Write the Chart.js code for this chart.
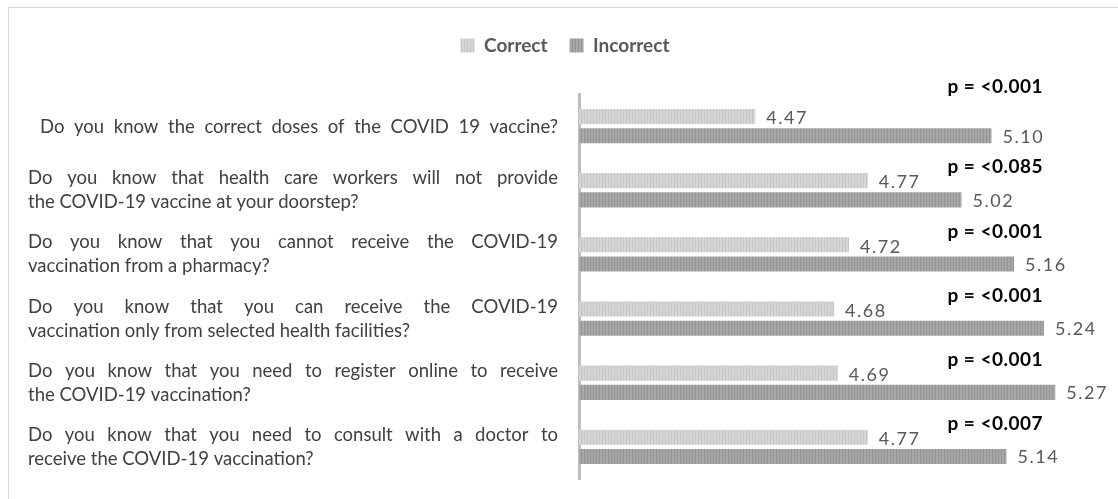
<!DOCTYPE html>
<html>
<head>
<meta charset="utf-8">
<script src="https://cdn.jsdelivr.net/npm/chart.js@4"></script>
<style>
  html, body { margin: 0; padding: 0; background: #fff; }
  #wrap { position: relative; width: 1118px; height: 499px; overflow: hidden; }
  #frame { position: absolute; left: 8px; top: 7px; width: 1130px; height: 510px; border: 1px solid #d9d9d9; box-sizing: border-box; }
  #myBarChart { position: absolute; left: 0; top: 0; }
</style>
</head>
<body>
<div id="wrap">
  <div id="frame"></div>
  <canvas id="myBarChart" width="1118" height="499"></canvas>
</div>
<script>
let questions=[
	['Do you know the correct doses of the COVID 19 vaccine?'],
	['Do you know that health care workers will not provide','the COVID-19 vaccine at your doorstep?'],
	['Do you know that you cannot receive the COVID-19','vaccination from a pharmacy?'],
	['Do you know that you can receive the COVID-19','vaccination only from selected health facilities?'],
	['Do you know that you need to register online to receive','the COVID-19 vaccination?'],
	['Do you know that you need to consult with a doctor to','receive the COVID-19 vaccination?']
];
let correctVals=[4.47,4.77,4.72,4.68,4.69,4.77];
let incorrectVals=[5.10,5.02,5.16,5.24,5.27,5.14];
let pValues=['p = <0.001','p = <0.085','p = <0.001','p = <0.001','p = <0.001','p = <0.007'];
let seriesNames=['Correct','Incorrect'];

// striped fill like the original
function stripes(base,line){
	let c=document.createElement('canvas');
	c.width=3;c.height=3;
	let g=c.getContext('2d');
	g.fillStyle=base;g.fillRect(0,0,3,3);
	g.fillStyle=line;g.fillRect(2,0,1,3);
	return g.createPattern(c,'repeat');
}
let ctx=document.getElementById('myBarChart').getContext('2d');
let lightFill=stripes('#d6d6d6','#c4c4c4');
let darkFill=stripes('#a8a8a8','#939393');

const FONT="Lato, 'Open Sans', sans-serif";
const RIGHT_TEXT=558;

// justified question text on the left
function drawJustified(c,text,y,left){
	let words=text.split(' ');
	let total=0;
	words.forEach(function(w){total+=c.measureText(w).width;});
	let gap=(RIGHT_TEXT-left-total)/(words.length-1);
	let x=left;
	c.textAlign='left';
	words.forEach(function(w){
		c.fillText(w,x,y);
		x+=c.measureText(w).width+gap;
	});
}

const labelsPlugin={
	id:'labelsPlugin',
	beforeInit(chart){
		// extra space under the legend
		const fit=chart.legend.fit;
		chart.legend.fit=function(){fit.bind(chart.legend)();this.height+=29;};
	},
	afterDatasetsDraw(chart){
		let c=chart.ctx;
		let xs=chart.scales.x, ys=chart.scales.y;
		c.save();
		c.textBaseline='middle';
		// questions
		c.font='18.5px '+FONT;
		c.fillStyle='#404040';
		questions.forEach(function(lines,i){
			let yc=ys.getPixelForValue(i);
			let y0=yc-(lines.length-1)*12;
			lines.forEach(function(line,k){
				if(lines.length==1){
					drawJustified(c,line,yc+1,40);
				}else if(k==0){
					drawJustified(c,line,y0,28);
				}else{
					c.textAlign='left';
					c.fillText(line,28,y0+k*24);
				}
			});
		});
		// values
		c.font='18px '+FONT;
		c.letterSpacing='1.5px';
		c.fillStyle='#595959';
		c.textAlign='left';
		chart.data.datasets.forEach(function(ds,di){
			chart.getDatasetMeta(di).data.forEach(function(bar,i){
				c.fillText(ds.data[i].toFixed(2),bar.x+11,bar.y+(di==0?2:1));
			});
		});
		// p values
		c.font='bold 19px '+FONT;
		c.letterSpacing='0.5px';
		c.fillStyle='#000';
		c.textAlign='center';
		pValues.forEach(function(p,i){
			let y=ys.getPixelForValue(i)+(i==0?-39:-23);
			c.fillText(p,xs.getPixelForValue(5.11),y);
		});
		c.restore();
	}
};

const newChart=new Chart(ctx,{
	type:'bar',
	data:{
		labels:questions,
		datasets:[{
			label:seriesNames[0],
			data:correctVals,
			backgroundColor:lightFill,
			borderWidth:0,
			categoryPercentage:0.6,
			barPercentage:0.78
		},{
			label:seriesNames[1],
			data:incorrectVals,
			backgroundColor:darkFill,
			borderWidth:0,
			categoryPercentage:0.6,
			barPercentage:0.78
		}]
	},
	options:{
		indexAxis:'y',
		responsive:false,
		animation:false,
		layout:{padding:{left:26,right:14,top:14,bottom:20}},
		plugins:{
			legend:{
				display:true,
				position:'top',
				labels:{
					boxWidth:14,
					boxHeight:14,
					color:'#595959',
					font:{size:19,weight:'bold',family:FONT},
					padding:22
				}
			},
			tooltip:{enabled:false}
		},
		scales:{
			x:{
				min:4,
				max:5.4,
				display:false
			},
			y:{
				grid:{display:false,drawTicks:false},
				border:{display:true,color:'#bfbfbf',width:3},
				afterFit:function(scale){scale.width=553;},
				ticks:{display:false}
			}
		}
	},
	plugins:[labelsPlugin]
});
</script>
</body>
</html>
